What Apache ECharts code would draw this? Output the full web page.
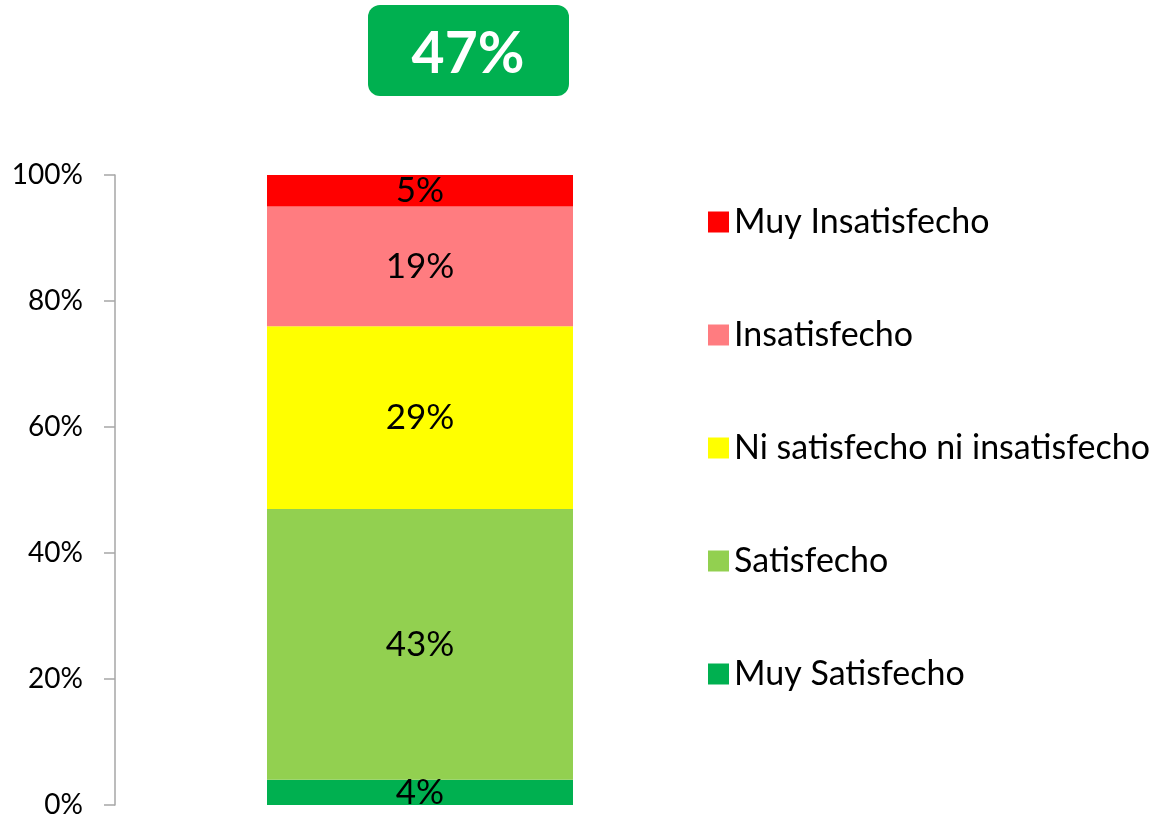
<!DOCTYPE html>
<html>
<head>
<meta charset="utf-8">
<script src="https://cdn.jsdelivr.net/npm/echarts@6/dist/echarts.min.js"></script>
<style>
    html, body { margin: 0; padding: 0; background: #fff; }
    #chart { width: 1159px; height: 819px; }
</style>
</head>
<body>
<div id="chart"></div>
<script>
    // series, bottom to top
    var seriesNames = ['Muy Satisfecho', 'Satisfecho', 'Ni satisfecho ni insatisfecho', 'Insatisfecho', 'Muy Insatisfecho'];
    var seriesValues = [4, 43, 29, 19, 5];
    var seriesColors = ['#00b050', '#92d050', '#ffff00', '#ff7c80', '#ff0000'];
    var categories = [''];
    var yTicks = [0, 20, 40, 60, 80, 100];

    var fontName = 'Lato';

    // headline = satisfied + very satisfied
    var headline = seriesValues[0] + seriesValues[1];

    var myChart = echarts.init(document.getElementById('chart'));

    var series = seriesNames.map(function(name, i) {
        return {
            name: name,
            type: 'bar',
            stack: 'total',
            barWidth: 306,
            data: [seriesValues[i]],
            itemStyle: { color: seriesColors[i] },
            label: {
                show: true,
                position: 'inside',
                formatter: '{c}%',
                color: '#000',
                fontFamily: fontName,
                fontSize: 35
            }
        };
    });

    var option = {
        animation: false,
        backgroundColor: '#fff',
        grid: { left: 115, right: 434, top: 175, bottom: 12 },
        xAxis: {
            type: 'category',
            data: categories,
            show: false
        },
        yAxis: {
            type: 'value',
            min: yTicks[0],
            max: yTicks[yTicks.length - 1],
            interval: 20,
            axisLine: { show: true, lineStyle: { color: '#a6a6a6', width: 1.5 } },
            axisTick: { show: true, length: 11, lineStyle: { color: '#a6a6a6', width: 1.5 } },
            splitLine: { show: false },
            axisLabel: {
                margin: 32,
                color: '#000',
                fontFamily: fontName,
                fontSize: 28,
                formatter: '{value}%'
            }
        },
        legend: {
            orient: 'vertical',
            left: 703,
            top: 200,
            itemWidth: 21,
            itemHeight: 21,
            itemGap: 79,
            icon: 'rect',
            data: seriesNames.slice().reverse(),
            textStyle: { color: '#000', fontFamily: fontName, fontSize: 34 }
        },
        graphic: [{
            type: 'group',
            left: 368,
            top: 5,
            children: [{
                type: 'rect',
                shape: { x: 0, y: 0, width: 201, height: 91, r: 12 },
                style: { fill: '#00b050' }
            }, {
                type: 'text',
                x: 100,
                y: 50,
                style: {
                    text: headline + '%',
                    fill: '#fff',
                    font: 'bold 57px ' + fontName,
                    align: 'center',
                    verticalAlign: 'middle'
                }
            }]
        }],
        series: series
    };

    myChart.setOption(option);
</script>
</body>
</html>
